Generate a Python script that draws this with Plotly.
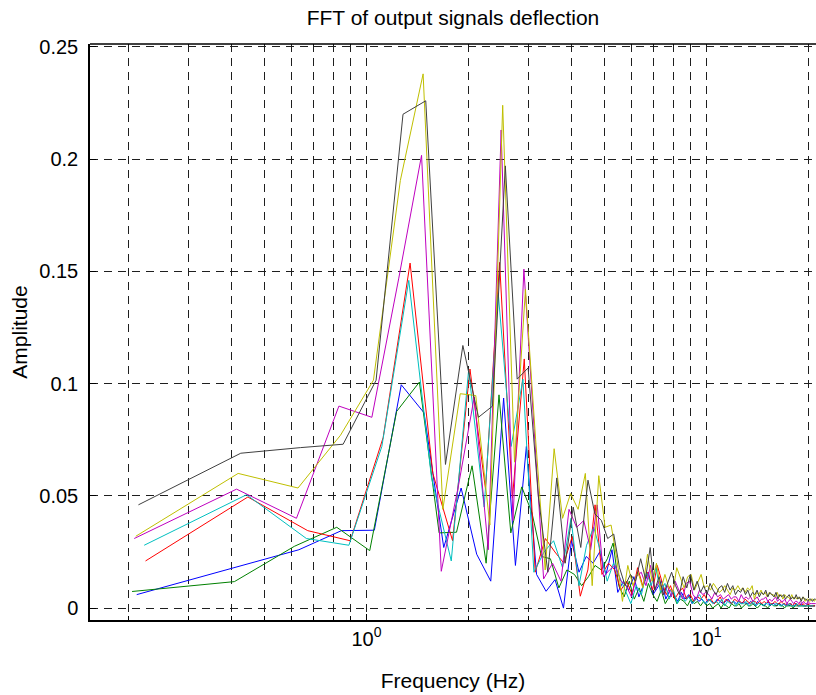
import numpy as np
import plotly.graph_objects as go

# ---------------- data (FFT amplitude spectra) ----------------
# frequency resolution of each record (Hz); bin k is at k*df
df_blue = 0.211
df_green = 0.2045
df_red = 0.224
df_cyan = 0.222
df_magenta = 0.2075
df_yellow = 0.2097
df_black = 0.2135

amp_blue = [0.006, 0.0185, 0.026, 0.0345, 0.0347, 0.0995, 0.087, 0.027, 0.0535, 0.024,
            0.012, 0.0936, 0.019, 0.072, 0.015, 0.0075, 0.0127, 0.000, 0.030, 0.016,
            0.023, 0.020, 0.025, 0.015, 0.026, 0.007, 0.012, 0.008, 0.014, 0.005,
            0.011, 0.016, 0.006, 0.009, 0.012, 0.004, 0.008, 0.006, 0.003, 0.007,
            0.004, 0.006, 0.002, 0.005, 0.003, 0.004, 0.002,
            0.004, 0.003, 0.002, 0.004, 0.003, 0.002, 0.003, 0.004, 0.002, 0.003,
            0.002, 0.003, 0.002, 0.003, 0.002, 0.002, 0.003, 0.002, 0.001, 0.003,
            0.002, 0.002, 0.001, 0.002, 0.003, 0.001, 0.002, 0.002, 0.001, 0.002,
            0.002, 0.001, 0.002, 0.001, 0.002, 0.001, 0.002, 0.001, 0.001, 0.002,
            0.001, 0.001, 0.002, 0.001, 0.001, 0.001, 0.002, 0.001, 0.001, 0.001,
            0.001, 0.001]

amp_green = [0.0074, 0.0118, 0.0275, 0.036, 0.0256, 0.0876, 0.1007, 0.0335, 0.0338, 0.0634,
             0.020, 0.095, 0.0335, 0.054, 0.0425, 0.023, 0.022, 0.009, 0.017, 0.015,
             0.010, 0.014, 0.019, 0.017, 0.022, 0.029, 0.010, 0.005, 0.012, 0.004,
             0.009, 0.003, 0.011, 0.006, 0.003, 0.008, 0.002, 0.005, 0.007, 0.002,
             0.004, 0.003, 0.001, 0.004, 0.002, 0.003, 0.001, 0.003, 0.001,
             0.002, 0.000, 0.001, 0.002, 0.000, 0.002, 0.001, 0.000, 0.002, 0.001,
             0.001, 0.002, 0.000, 0.001, 0.002, 0.001, 0.001, 0.002, 0.001, 0.000,
             0.001, 0.002, 0.001, 0.001, 0.000, 0.001, 0.002, 0.001, 0.001, 0.001,
             0.002, 0.001, 0.001, 0.000, 0.001, 0.001, 0.001, 0.001, 0.000, 0.001,
             0.001, 0.001, 0.001, 0.001, 0.001, 0.001, 0.001, 0.001, 0.001, 0.001,
             0.001, 0.001, 0.001]

amp_red = [0.021, 0.0495, 0.0345, 0.030, 0.076, 0.1537, 0.060, 0.030, 0.1065, 0.053,
           0.154, 0.049, 0.111, 0.016, 0.031, 0.025, 0.020, 0.032, 0.0053, 0.017,
           0.046, 0.015, 0.020, 0.017, 0.008, 0.012, 0.006, 0.018, 0.010, 0.016,
           0.008, 0.019, 0.012, 0.006, 0.010, 0.004, 0.007, 0.009, 0.004, 0.006,
           0.003, 0.005, 0.004, 0.006, 0.003,
           0.004, 0.002, 0.003, 0.005, 0.002, 0.004, 0.003, 0.002, 0.004, 0.003,
           0.003, 0.002, 0.004, 0.003, 0.002, 0.003, 0.003, 0.002, 0.003, 0.002,
           0.003, 0.002, 0.003, 0.002, 0.002, 0.003, 0.002, 0.002, 0.003, 0.002,
           0.002, 0.001, 0.002, 0.002, 0.001, 0.002, 0.002, 0.001, 0.002, 0.001,
           0.002, 0.001, 0.001, 0.002, 0.001, 0.001, 0.001, 0.001]

amp_cyan = [0.028, 0.0505, 0.031, 0.028, 0.072, 0.146, 0.058, 0.021, 0.106, 0.045,
            0.140, 0.072, 0.102, 0.016, 0.025, 0.030, 0.018, 0.040, 0.010, 0.028,
            0.036, 0.025, 0.012, 0.020, 0.014, 0.008, 0.002, 0.010, 0.006, 0.016,
            0.010, 0.018, 0.007, 0.011, 0.004, 0.008, 0.002, 0.006, 0.003, 0.005,
            0.002, 0.004, 0.006, 0.003, 0.002,
            0.004, 0.002, 0.003, 0.002, 0.004, 0.001, 0.003, 0.002, 0.003, 0.001,
            0.003, 0.002, 0.002, 0.003, 0.001, 0.002, 0.003, 0.001, 0.002, 0.002,
            0.001, 0.002, 0.002, 0.001, 0.002, 0.001, 0.002, 0.002, 0.001, 0.001,
            0.002, 0.001, 0.001, 0.002, 0.001, 0.001, 0.001, 0.002, 0.001, 0.001,
            0.001, 0.001, 0.001, 0.001, 0.001, 0.001, 0.001, 0.001]

amp_magenta = [0.031, 0.053, 0.040, 0.090, 0.085, 0.147, 0.2017, 0.0164, 0.055, 0.094,
               0.026, 0.213, 0.039, 0.151, 0.080, 0.013, 0.020, 0.012, 0.044, 0.036,
               0.039, 0.026, 0.046, 0.014, 0.017, 0.019, 0.012, 0.010, 0.005, 0.014,
               0.016, 0.010, 0.019, 0.008, 0.012, 0.006, 0.010, 0.005, 0.012, 0.008,
               0.004, 0.011, 0.012, 0.006, 0.004, 0.008, 0.006, 0.007,
               0.006, 0.004, 0.007, 0.005, 0.006, 0.004, 0.005, 0.006, 0.004, 0.005,
               0.005, 0.003, 0.006, 0.004, 0.005, 0.004, 0.005, 0.003, 0.004, 0.005,
               0.003, 0.004, 0.004, 0.005, 0.003, 0.004, 0.003, 0.004, 0.005, 0.003,
               0.004, 0.003, 0.003, 0.004, 0.002, 0.003, 0.004, 0.003, 0.002, 0.003,
               0.003, 0.002, 0.003, 0.002, 0.003, 0.002, 0.002, 0.003, 0.002, 0.002,
               0.002, 0.002, 0.002]

amp_yellow = [0.032, 0.060, 0.0535, 0.077, 0.1015, 0.1905, 0.238, 0.044, 0.0955, 0.0947,
              0.037, 0.224, 0.065, 0.142, 0.075, 0.017, 0.071, 0.040, 0.051, 0.044,
              0.060, 0.010, 0.059, 0.036, 0.037, 0.022, 0.003, 0.019, 0.010, 0.016,
              0.009, 0.024, 0.012, 0.020, 0.008, 0.015, 0.009, 0.007, 0.018, 0.013,
              0.009, 0.014, 0.015, 0.008, 0.012, 0.015, 0.009, 0.010, 0.008,
              0.011, 0.009, 0.007, 0.008, 0.010, 0.008, 0.006, 0.009, 0.008, 0.010,
              0.008, 0.009, 0.007, 0.009, 0.008, 0.010, 0.004, 0.007, 0.006, 0.008,
              0.006, 0.007, 0.005, 0.007, 0.006, 0.006, 0.005, 0.007, 0.005, 0.006,
              0.004, 0.006, 0.005, 0.005, 0.004, 0.006, 0.004, 0.005, 0.004, 0.005,
              0.004, 0.004, 0.005, 0.003, 0.004, 0.004, 0.003, 0.004, 0.004, 0.003,
              0.004]

amp_black = [0.046, 0.069, 0.0715, 0.073, 0.1015, 0.220, 0.226, 0.064, 0.117, 0.085,
             0.090, 0.197, 0.102, 0.107, 0.050, 0.016, 0.058, 0.020, 0.045, 0.027,
             0.057, 0.042, 0.039, 0.031, 0.033, 0.018, 0.010, 0.015, 0.012, 0.022,
             0.013, 0.027, 0.008, 0.014, 0.006, 0.011, 0.016, 0.010, 0.006, 0.014,
             0.009, 0.015, 0.008, 0.012, 0.007, 0.010, 0.006,
             0.011, 0.008, 0.006, 0.009, 0.010, 0.007, 0.011, 0.008, 0.010, 0.006,
             0.008, 0.007, 0.009, 0.006, 0.008, 0.005, 0.007, 0.006, 0.008, 0.005,
             0.007, 0.006, 0.008, 0.005, 0.007,
             0.006, 0.005, 0.007, 0.004, 0.006, 0.005, 0.006, 0.004, 0.005, 0.006,
             0.004, 0.005, 0.004, 0.006, 0.004, 0.005, 0.003, 0.005, 0.004, 0.004,
             0.003, 0.004, 0.004, 0.003, 0.004, 0.004]

# x-axis major ticks (decades), minor grid positions (Hz) and labels
x_major = [1, 10]
x_major_labels = ["10<sup>0</sup>", "10<sup>1</sup>"]
x_minor = [0.2, 0.3, 0.4, 0.5, 0.6, 0.7, 0.8, 0.9, 2, 3, 4, 5, 6, 7, 8, 9, 20]
y_ticks = [0, 0.05, 0.1, 0.15, 0.2, 0.25]
y_labels = ["0", "0.05", "0.1", "0.15", "0.2", "0.25"]

series = [
    (df_blue, amp_blue, "#0000ff"),
    (df_green, amp_green, "#008000"),
    (df_red, amp_red, "#ff0000"),
    (df_cyan, amp_cyan, "#00bfbf"),
    (df_magenta, amp_magenta, "#bf00bf"),
    (df_yellow, amp_yellow, "#bfbf00"),
    (df_black, amp_black, "#404040"),
]

FONT = "Liberation Sans, Arial, Helvetica, sans-serif"

fig = go.Figure()
for df, amps, color in series:
    freqs = df * np.arange(1, len(amps) + 1)
    fig.add_trace(go.Scatter(x=freqs, y=amps, mode="lines",
                             line=dict(color=color, width=1),
                             showlegend=False, hoverinfo="skip"))

x_left = np.log10(0.1538)
x_right = x_left + 726 / 340.0

GRID_COLOR = "#1e1e1e"
GRID_DASH = "8px,6px"

fig.update_layout(
    width=816, height=695,
    margin=dict(l=90, r=0, t=44, b=75),
    paper_bgcolor="white", plot_bgcolor="white",
    font=dict(family=FONT, size=20, color="black"),
    title=dict(text="FFT of output signals deflection", font=dict(size=21),
               xref="paper", x=0.5, xanchor="center",
               yref="container", y=1 - 18 / 695, yanchor="middle"),
    xaxis=dict(type="log", range=[x_left, x_right],
               title=dict(text="Frequency (Hz)", font=dict(size=21), standoff=25),
               automargin=False,
               tickmode="array", tickvals=x_major, ticktext=x_major_labels,
               ticks="inside", ticklen=6, tickcolor="black", tickwidth=1,
               showline=True, linecolor="black", linewidth=1.5, mirror=False,
               zeroline=False, tickfont=dict(size=20),
               showgrid=True, gridcolor=GRID_COLOR, gridwidth=1, griddash=GRID_DASH,
               minor=dict(tickmode="array", tickvals=x_minor, ticks="inside",
                          ticklen=4, tickcolor="black", tickwidth=1,
                          showgrid=True, gridcolor=GRID_COLOR, gridwidth=1,
                          griddash=GRID_DASH)),
    yaxis=dict(range=[-0.0053, 0.2513],
               title=dict(text="Amplitude", font=dict(size=21), standoff=6),
               automargin=False,
               tickmode="array", tickvals=y_ticks, ticktext=y_labels,
               ticks="inside", ticklen=6, tickcolor="black", tickwidth=1,
               showline=True, linecolor="black", linewidth=1.5, mirror=False,
               zeroline=False, ticklabelstandoff=6, tickfont=dict(size=20),
               showgrid=True, gridcolor=GRID_COLOR, gridwidth=1, griddash=GRID_DASH),
    shapes=[dict(type="line", xref="paper", yref="paper", x0=0, x1=1, y0=1, y1=1,
                 line=dict(color="black", width=1.5))],
)

fig.write_html("out.html", config={"displayModeBar": False})
